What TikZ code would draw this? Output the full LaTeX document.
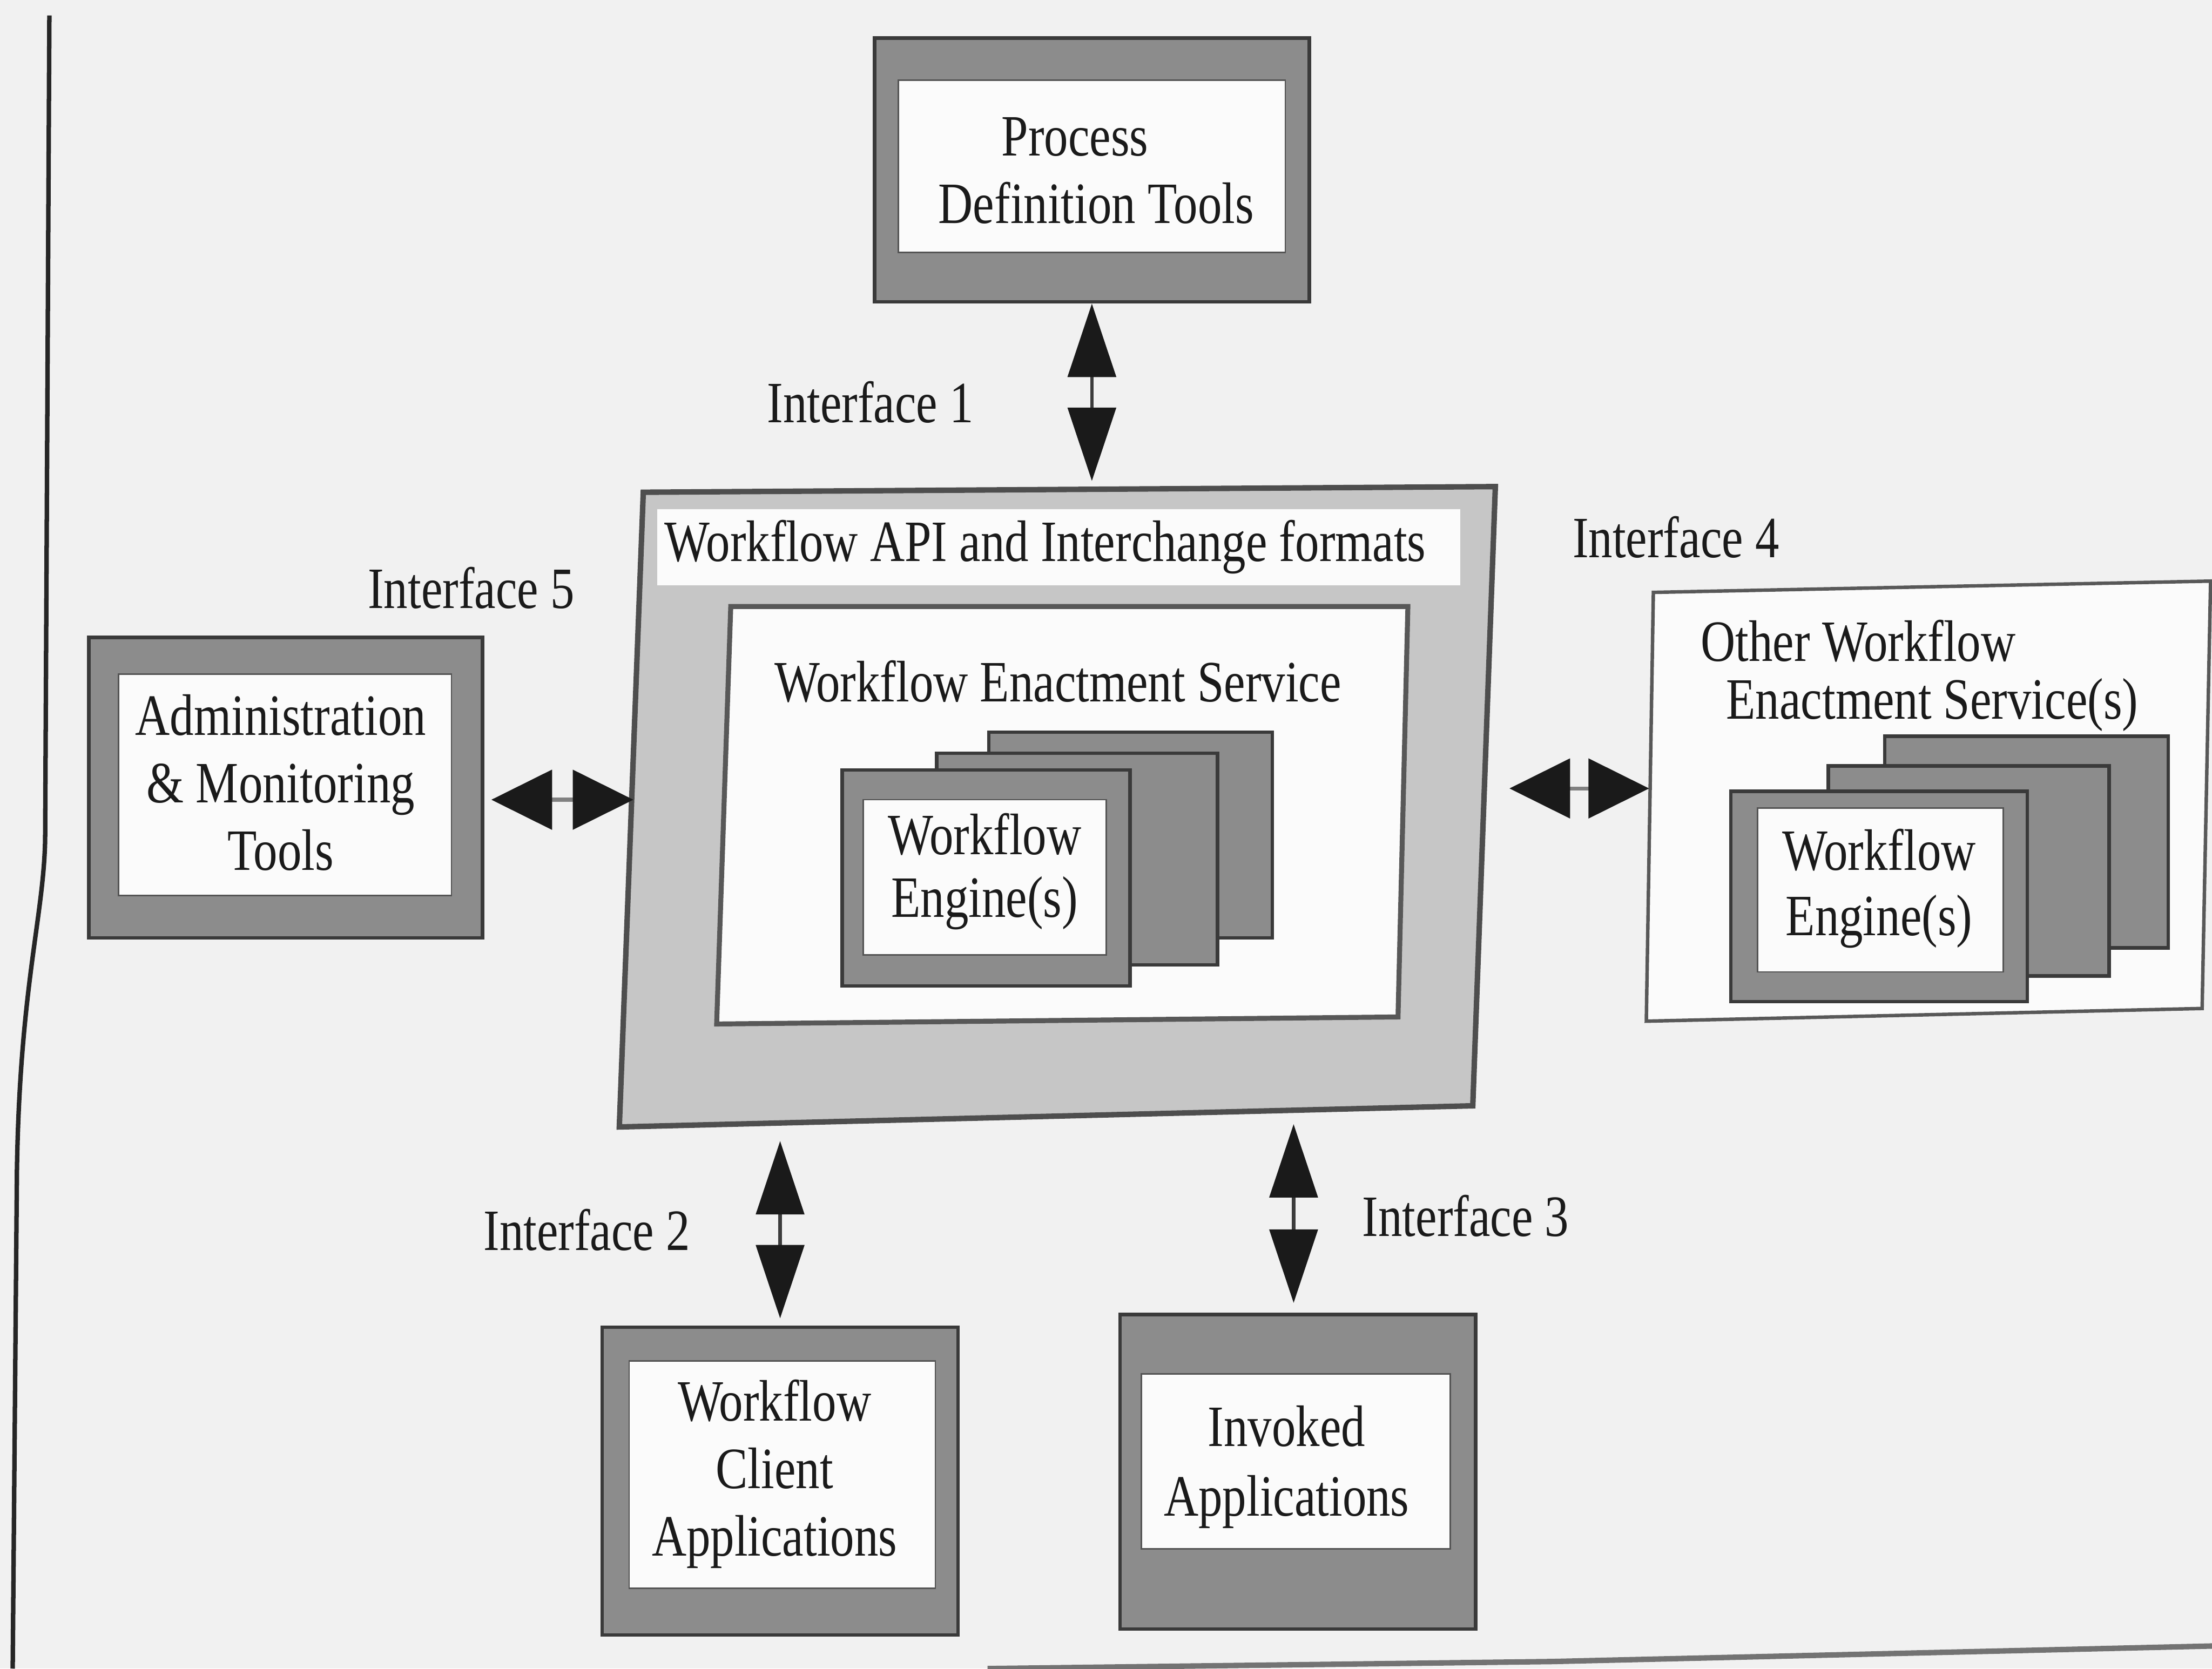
\documentclass[tikz,border=0pt]{standalone}
\usepackage{fontspec}
\setmainfont[FakeStretch=0.82]{Liberation Serif}
\usetikzlibrary{arrows.meta}
\definecolor{paper}{HTML}{F1F1F1}
\definecolor{framegray}{HTML}{8C8C8C}
\definecolor{apigray}{HTML}{C6C6C6}
\definecolor{edge}{HTML}{3A3A3A}
\definecolor{ink}{HTML}{1A1A1A}
\definecolor{blank}{HTML}{FBFBFB}

\begin{document}
\begin{tikzpicture}[x=0.01cm,y=-0.01cm,
  every node/.style={font=\fontsize{11.8}{13.6}\selectfont, text=ink},
  frameout/.style={draw=edge, line width=0.7pt, fill=framegray, inner sep=0pt},
  framein/.style={fill=blank, draw=framegray!60!black, line width=0.3pt, inner sep=0pt},
  boxtext/.style={align=center, inner sep=0pt},
  card/.style={draw=edge, line width=0.7pt, fill=framegray},
  vlink/.style={draw=ink!85, line width=0.7pt,
    {Triangle[length=0.52cm,width=0.34cm,color=ink]}-{Triangle[length=0.52cm,width=0.34cm,color=ink]}},
  hlink/.style={draw=ink!55, line width=0.8pt,
    {Triangle[length=0.43cm,width=0.42cm,color=ink]}-{Triangle[length=0.43cm,width=0.42cm,color=ink]}},
  iflabel/.style={inner sep=0pt}]

% page
\fill[paper] (0,0) rectangle (1568,1183);
\useasboundingbox (0,0) rectangle (1568,1183);
\draw[black!85, line width=0.9pt] (35,11) -- (32,595)
  .. controls (31,650) and (14,700) .. (12,830) -- (9,1183);
\draw[black!55, line width=1.1pt] (700,1183) -- (1100,1178) -- (1568,1167);

% ---------- Process Definition Tools
\node[frameout, minimum width=3.08cm, minimum height=1.87cm] (pdt) at (774,120.5) {};
\node[framein, minimum width=2.74cm, minimum height=1.22cm] (pdtin) at (774,118) {};
\node[boxtext] (pdttext) at (762,121) {Process\\\hspace*{0.3cm}Definition Tools};

% ---------- Workflow API and interchange formats
\draw[draw=edge!90, line width=1.1pt, fill=apigray]
  (456,349) -- (1060,345) -- (1044,784) -- (439,799) -- cycle;
\fill[blank] (466,361) rectangle (1035,415);
\node[boxtext] (apitext) at (741,388) {Workflow API and Interchange formats};

% enactment service
\draw[draw=edge!85, line width=1pt, fill=blank]
  (518,430) -- (998,430) -- (991,721) -- (508,726) -- cycle;
\node[boxtext] (westext) at (750,483) {Workflow Enactment Service};

% engine stack
\draw[card] (701,519) rectangle (902,665);
\draw[card] (664,534) rectangle (863,684);
\node[frameout, minimum width=2.04cm, minimum height=1.53cm] (eng) at (699,622.5) {};
\node[framein, minimum width=1.72cm, minimum height=1.10cm] (engin) at (698,622) {};
\node[boxtext, font=\fontsize{11.8}{12.6}\selectfont] (engtext) at (698,618) {Workflow\\Engine(s)};

% ---------- Administration & Monitoring Tools
\node[frameout, minimum width=2.79cm, minimum height=2.13cm] (adm) at (202.5,558.5) {};
\node[framein, minimum width=2.36cm, minimum height=1.57cm] (admin) at (202,556.5) {};
\node[boxtext] (admtext) at (199,555) {Administration\\\& Monitoring\\Tools};

% ---------- Other Workflow Enactment Service(s)
\draw[draw=edge!85, line width=0.7pt, fill=blank]
  (1172,420) -- (1567,412) -- (1561,715) -- (1167,724) -- cycle;
\node[align=left, inner sep=0pt, anchor=west, font=\fontsize{11.8}{11.6}\selectfont]
  (owstext) at (1205,479) {Other Workflow\\\hspace*{0.18cm}Enactment Service(s)};
\draw[card] (1336,522) rectangle (1537,672);
\draw[card] (1296,543) rectangle (1495,692);
\node[frameout, minimum width=2.10cm, minimum height=1.49cm] (oeng) at (1332,635.5) {};
\node[framein, minimum width=1.74cm, minimum height=1.16cm] (oengin) at (1333,631) {};
\node[boxtext, font=\fontsize{11.8}{13.2}\selectfont] (oengtext) at (1332,630) {Workflow\\Engine(s)};

% ---------- Workflow Client Applications
\node[frameout, minimum width=2.52cm, minimum height=2.18cm] (wca) at (553,1050) {};
\node[framein, minimum width=2.17cm, minimum height=1.61cm] (wcain) at (554.5,1045.5) {};
\node[boxtext] (wcatext) at (549,1045) {Workflow\\Client\\Applications};

% ---------- Invoked Applications
\node[frameout, minimum width=2.52cm, minimum height=2.23cm] (inv) at (920,1043.5) {};
\node[framein, minimum width=2.19cm, minimum height=1.24cm] (invin) at (918.5,1036) {};
\node[boxtext, font=\fontsize{11.8}{14}\selectfont] (invtext) at (912,1040) {Invoked\\Applications};

% ---------- interface points on the API box
\coordinate (apiN)  at (774,341);
\coordinate (apiS1) at (553,809);
\coordinate (apiS2) at (917,797);
\coordinate (apiE)  at (1070,559);
\coordinate (apiW)  at (449,567);
\coordinate (owsW)  at (1169,559);

% ---------- interfaces
\draw[vlink] (pdt.south) -- (apiN);
\draw[vlink] (apiS1) -- ([yshift=0.05cm]wca.north);
\draw[vlink] (apiS2) -- ([yshift=0.07cm]apiS2 |- inv.north);
\draw[hlink] (apiE) -- (owsW);
\draw[hlink] ([xshift=0.05cm]adm.east |- apiW) -- (apiW);

\node[iflabel] (if1) at (617,285) {Interface 1};
\node[iflabel] (if2) at (416,872) {Interface 2};
\node[iflabel] (if3) at (1039,862) {Interface 3};
\node[iflabel] (if4) at (1188,381) {Interface 4};
\node[iflabel] (if5) at (334,417) {Interface 5};
\end{tikzpicture}
\end{document}
